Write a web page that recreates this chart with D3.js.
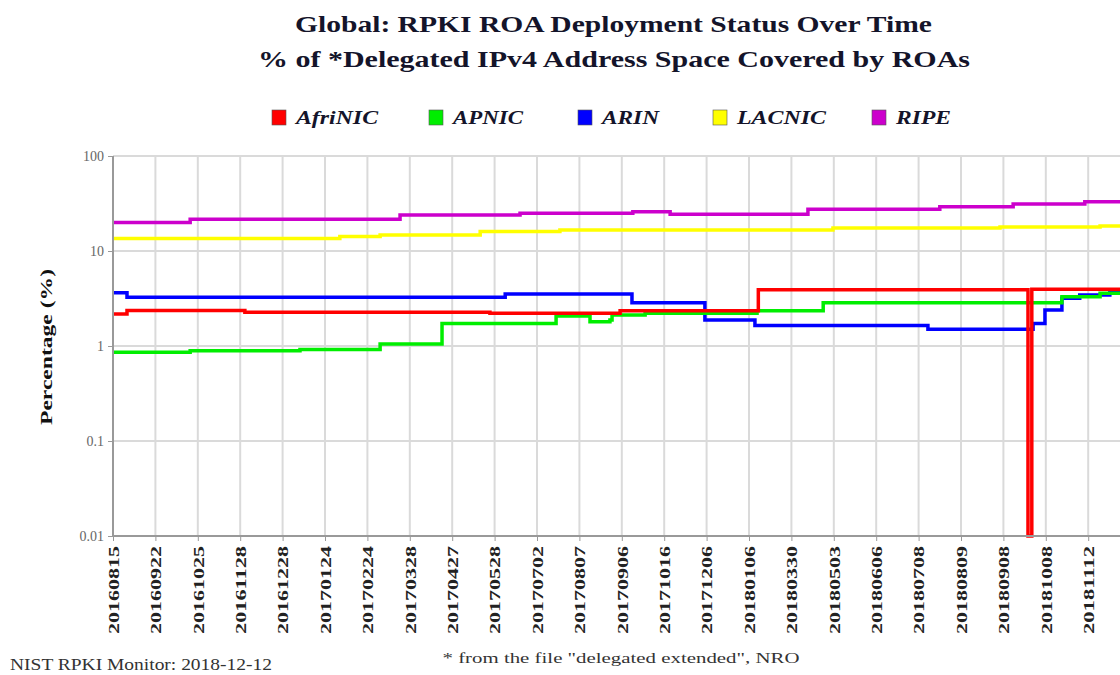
<!DOCTYPE html>
<html>
<head>
<meta charset="utf-8">
<script src="https://cdn.jsdelivr.net/npm/d3@7"></script>
<style>
  html, body { margin: 0; padding: 0; background: #fff; overflow: hidden; }
  svg { display: block; }
  svg text { font-family: "Liberation Serif", "Tinos", "Times New Roman", Times, "Nimbus Roman", serif; }
</style>
</head>
<body>
<svg id="chart" width="1120" height="675"></svg>
<script>
// ---------- DATA ----------
const titleLines = ["Global: RPKI ROA Deployment Status Over Time",
                    "% of *Delegated IPv4 Address Space Covered by ROAs"];
const xLabels = ["20160815","20160922","20161025","20161128","20161228","20170124",
                 "20170224","20170328","20170427","20170528","20170702","20170807",
                 "20170906","20171016","20171206","20180106","20180330","20180503",
                 "20180606","20180708","20180809","20180908","20181008","20181112"];
const yTicks = [100, 10, 1, 0.1, 0.01];
const yTickLabels = ["100", "10", "1", "0.1", "0.01"];
const seriesNames = ["AfriNIC", "APNIC", "ARIN", "LACNIC", "RIPE"];
const seriesColors = ["#ff0000", "#00ee00", "#0000ff", "#ffff00", "#cc00cc"];

// [position in label-steps from 20160815, percent]
const afrinic = [[0,2.17],[0.33,2.37],[3.11,2.26],[8.89,2.21],[11.96,2.35],[15.22,3.9],
                 [21.58,0.01],[21.67,3.95],[24.5,3.95]];
const apnic   = [[0,0.86],[1.82,0.89],[4.41,0.92],[6.3,1.05],[7.76,1.73],[10.45,2.07],
                 [11.25,1.80],[11.72,1.88],[11.77,2.12],[12.55,2.21],[15.19,2.35],
                 [16.75,2.86],[22.38,3.30],[23.28,3.59],[24.5,3.59]];
const arin    = [[0,3.64],[0.33,3.26],[9.25,3.53],[12.24,2.86],[13.96,1.88],[15.14,1.64],
                 [19.22,1.50],[21.7,1.73],[21.98,2.39],[22.38,3.18],[22.8,3.44],
                 [23.51,3.73],[24.5,3.73]];
const lacnic  = [[0,13.5],[5.35,14.2],[6.3,14.7],[8.66,16.0],[10.54,16.6],[16.98,17.5],
                 [20.92,17.9],[23.28,18.3],[24.5,18.3]];
const ripe    = [[0,20.0],[1.82,21.6],[6.77,23.9],[9.6,24.9],[12.26,25.9],[13.14,24.3],
                 [16.39,27.5],[19.5,29.3],[21.23,31.2],[22.92,33.0],[24.5,33.0]];
const seriesData = [afrinic, apnic, arin, lacnic, ripe];

const footLeft = "NIST RPKI Monitor: 2018-12-12";
const footCenter = "* from the file \"delegated extended\", NRO";

// ---------- LAYOUT ----------
const FONT = "'Liberation Serif', Tinos, 'Times New Roman', Times, 'Nimbus Roman', serif";
const svg = d3.select("#chart");
const plot = { left: 113, top: 156, bottom: 536, step: 42.4, endT: 24.5 };

const x = d3.scaleLinear().domain([0, plot.endT])
  .range([plot.left, plot.left + plot.step * plot.endT]);
const y = d3.scaleLog().domain([0.01, 100]).range([plot.bottom, plot.top]).clamp(true);

// titles
svg.append("text").attr("x", 613.5).attr("y", 32).attr("text-anchor", "middle")
  .attr("font-family", FONT)
  .attr("font-size", 24).attr("font-weight", "bold").attr("fill", "#14142a")
  .attr("textLength", 637).attr("lengthAdjust", "spacingAndGlyphs")
  .text(titleLines[0]);
svg.append("text").attr("x", 614).attr("y", 67).attr("text-anchor", "middle")
  .attr("font-family", FONT)
  .attr("font-size", 24).attr("font-weight", "bold").attr("fill", "#14142a")
  .attr("textLength", 712).attr("lengthAdjust", "spacingAndGlyphs")
  .text(titleLines[1]);

// legend
const legendX = [272, 429, 578, 713, 872];
const legendLen = [82, 70, 57, 89, 55];
seriesNames.forEach((n, i) => {
  svg.append("rect").attr("x", legendX[i]).attr("y", 110).attr("width", 14).attr("height", 15)
    .attr("fill", seriesColors[i]).attr("stroke", "#555").attr("stroke-width", 0.6);
  svg.append("text").attr("x", legendX[i] + 24).attr("y", 124)
    .attr("font-family", FONT)
    .attr("font-size", 18).attr("font-weight", "bold").attr("font-style", "italic")
    .attr("fill", "#14142a")
    .attr("textLength", legendLen[i]).attr("lengthAdjust", "spacingAndGlyphs")
    .text(n);
});

// grid
const tickIdx = d3.range(xLabels.length);
const gridG = svg.append("g");
gridG.selectAll("line.v").data(tickIdx).join("line")
  .attr("x1", d => x(d)).attr("x2", d => x(d))
  .attr("y1", plot.top).attr("y2", plot.bottom)
  .attr("stroke", "#dadada").attr("stroke-width", 2);
gridG.selectAll("line.h").data(yTicks).join("line")
  .attr("x1", plot.left).attr("x2", 1120)
  .attr("y1", d => y(d)).attr("y2", d => y(d))
  .attr("stroke", "#dadada").attr("stroke-width", 2);

// clip
svg.append("clipPath").attr("id", "clip").append("rect")
  .attr("x", plot.left).attr("y", plot.top - 4)
  .attr("width", 1120 - plot.left).attr("height", plot.bottom - plot.top + 6);

// lines
const line = d3.line().x(d => x(d[0])).y(d => y(d[1])).curve(d3.curveStepAfter);
const linesG = svg.append("g").attr("clip-path", "url(#clip)");
const drawOrder = [4, 3, 2, 1, 0];
drawOrder.forEach(i => {
  linesG.append("path").datum(seriesData[i])
    .attr("d", line).attr("fill", "none")
    .attr("stroke", seriesColors[i]).attr("stroke-width", 3.5)
    .attr("stroke-linejoin", "miter");
});

// axes
const xAxis = d3.axisBottom(x).tickValues(tickIdx).tickSize(5).tickFormat(i => xLabels[i]);
const xg = svg.append("g").attr("transform", `translate(0,${plot.bottom})`).call(xAxis);
xg.attr("font-family", FONT);
xg.select(".domain").attr("stroke", "#999").attr("stroke-width", 2)
  .attr("d", `M${plot.left},0H1120`);
xg.selectAll(".tick line").attr("stroke", "#999");
xg.selectAll(".tick text")
  .attr("transform", "rotate(-90)")
  .attr("x", -10).attr("y", 0).attr("dy", "0.35em")
  .attr("text-anchor", "end")
  .attr("font-family", FONT)
  .attr("font-size", 15).attr("font-weight", "bold").attr("fill", "#222")
  .attr("textLength", 88).attr("lengthAdjust", "spacingAndGlyphs");

const yAxis = d3.axisLeft(y).tickValues(yTicks).tickSize(5)
  .tickFormat((d, i) => yTickLabels[i]);
const yg = svg.append("g").attr("transform", `translate(${plot.left},0)`).call(yAxis);
yg.attr("font-family", FONT);
yg.select(".domain").attr("stroke", "#999").attr("stroke-width", 2)
  .attr("d", `M0,${plot.top}V${plot.bottom}`);
yg.selectAll(".tick line").attr("stroke", "#999");
yg.selectAll(".tick text")
  .attr("x", -9)
  .attr("font-family", FONT)
  .attr("font-size", 14).attr("fill", "#666");

// y-axis title
svg.append("text").attr("transform", "translate(52,347) rotate(-90)")
  .attr("font-family", FONT)
  .attr("text-anchor", "middle").attr("font-size", 17).attr("font-weight", "bold")
  .attr("fill", "#111").attr("textLength", 156).attr("lengthAdjust", "spacingAndGlyphs")
  .text("Percentage (%)");

// footers
svg.append("text").attr("x", 10).attr("y", 670).attr("font-size", 16).attr("fill", "#333")
  .attr("font-family", FONT)
  .attr("textLength", 262).attr("lengthAdjust", "spacingAndGlyphs").text(footLeft);
svg.append("text").attr("x", 621).attr("y", 663).attr("text-anchor", "middle")
  .attr("font-family", FONT)
  .attr("font-size", 14).attr("fill", "#333")
  .attr("textLength", 357).attr("lengthAdjust", "spacingAndGlyphs").text(footCenter);
</script>
</body>
</html>
